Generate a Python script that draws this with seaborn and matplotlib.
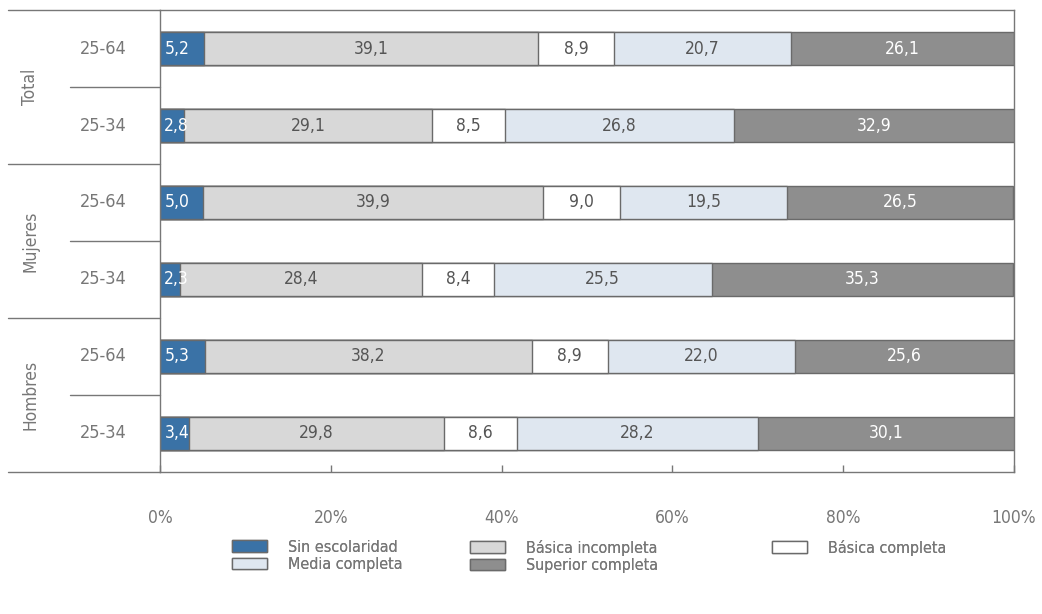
import numpy as np
import matplotlib
matplotlib.use("Agg")
import matplotlib.pyplot as plt
import seaborn as sns
from matplotlib.patches import Patch
from matplotlib.transforms import blended_transform_factory

# data
groups = ["Total", "Mujeres", "Hombres"]
ages = ["25-64", "25-34"]
levels = ["Sin escolaridad", "Básica incompleta", "Básica completa",
          "Media completa", "Superior completa"]
sin_esc = [5.2, 2.8, 5.0, 2.3, 5.3, 3.4]
basica_inc = [39.1, 29.1, 39.9, 28.4, 38.2, 29.8]
basica_comp = [8.9, 8.5, 9.0, 8.4, 8.9, 8.6]
media_comp = [20.7, 26.8, 19.5, 25.5, 22.0, 28.2]
superior_comp = [26.1, 32.9, 26.5, 35.3, 25.6, 30.1]
xticks = [0, 20, 40, 60, 80, 100]

colors = ["#3a72a6", "#d8d8d8", "#ffffff", "#dfe7f0", "#8e8e8e"]
txt_colors = ["white", "#555555", "#555555", "#555555", "white"]
edge = "#6a6a6a"
grey = "#777777"

sns.set_theme(style="white")
plt.rcParams["font.family"] = ["DejaVu Sans Condensed", "Liberation Sans Narrow",
                               "DejaVu Sans"]
plt.rcParams["font.stretch"] = "condensed"

vals = np.array([sin_esc, basica_inc, basica_comp, media_comp, superior_comp])
cum = np.cumsum(vals, axis=0)
row_ids = [f"{g} {a}" for g in groups for a in ages]

fig = plt.figure(figsize=(10.42, 6.14), dpi=100)
ax = fig.add_axes([0.1536, 0.2313, 0.8195, 0.7524])

# stacked bars: draw cumulative totals from longest to shortest
for k in range(len(levels) - 1, -1, -1):
    sns.barplot(x=cum[k], y=row_ids, orient="h", color=colors[k],
                saturation=1, width=0.42, edgecolor=edge, linewidth=1, ax=ax)

# value labels
for i in range(len(row_ids)):
    for k in range(len(levels)):
        left = cum[k, i] - vals[k, i]
        lab = f"{vals[k, i]:.1f}".replace(".", ",")
        if k == 0:
            ax.text(left + 0.5, i, lab, ha="left", va="center",
                    color=txt_colors[k], fontsize=12.5)
        else:
            ax.text(left + vals[k, i] / 2, i, lab, ha="center", va="center",
                    color=txt_colors[k], fontsize=12.5)

ax.set_xlim(0, 100)
ax.set_ylim(5.5, -0.5)
ax.set_xlabel("")
ax.set_ylabel("")
ax.set_xticks(xticks)
ax.set_xticklabels([f"{t}%" for t in xticks], color=grey, fontsize=12.5)
ax.tick_params(axis="x", direction="in", length=5, width=1, color=grey,
               pad=27, bottom=True)
ax.set_yticks([])

for s in ["left", "right", "top", "bottom"]:
    ax.spines[s].set_visible(True)
    ax.spines[s].set_color(grey)
    ax.spines[s].set_linewidth(1)

# left-side labels and separators
tr = blended_transform_factory(ax.transAxes, ax.transData)
for i, rid in enumerate(row_ids):
    ax.text(-0.067, i, ages[i % 2], transform=tr, ha="center", va="center",
            color=grey, fontsize=13)
for j, g in enumerate(groups):
    ax.text(-0.152, 2 * j + 0.5, g, transform=tr, ha="center", va="center",
            rotation=90, color=grey, fontsize=12.5)
    ax.plot([-0.105, 0], [2 * j + 0.5] * 2, transform=tr, color=grey,
            lw=1, clip_on=False)
for y in [-0.5, 1.5, 3.5, 5.5]:
    ax.plot([-0.178, 0], [y, y], transform=tr, color=grey, lw=1, clip_on=False)

# legend: three columns placed like the reference
cols = [[0, 3], [1, 4], [2]]
col_x = [0.2226, 0.451, 0.741]
for ks, x0 in zip(cols, col_x):
    handles = [Patch(facecolor=colors[k], edgecolor=edge, linewidth=1) for k in ks]
    leg = fig.legend(handles, [levels[k] for k in ks], frameon=False,
                     loc="upper left", bbox_to_anchor=(x0, 0.121), fontsize=11.5,
                     handlelength=2.2, handleheight=0.75, handletextpad=1.3,
                     labelspacing=0.15, borderpad=0, borderaxespad=0,
                     labelcolor=grey)
    fig.add_artist(leg)

fig.savefig("out.png", dpi=100)
